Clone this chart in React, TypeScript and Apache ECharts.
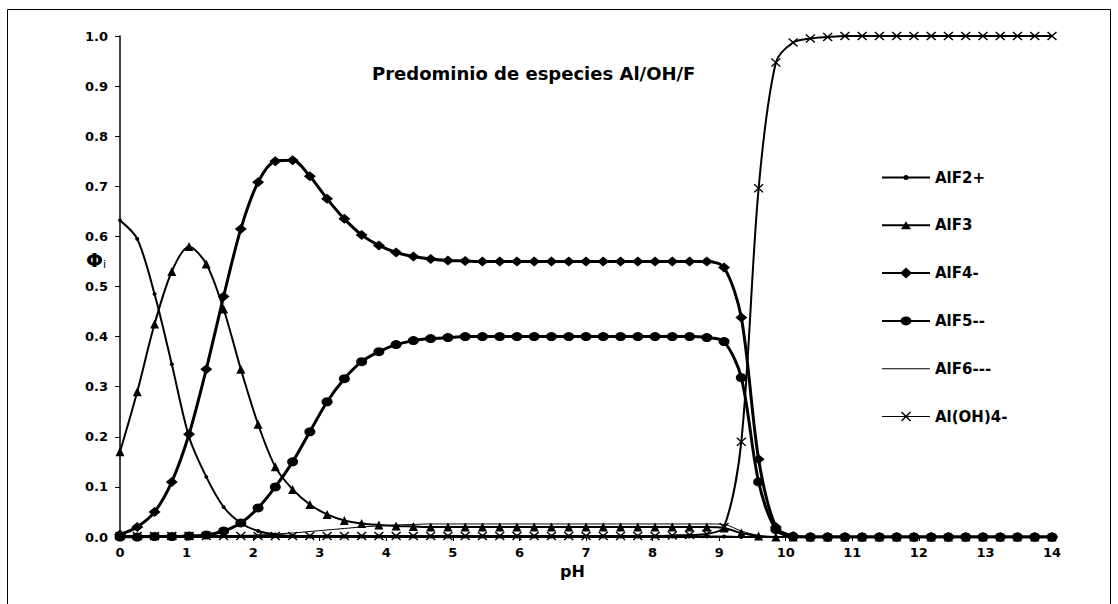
import React, { useEffect, useRef } from "react";
import * as echarts from "echarts";

const pH = [
  0, 0.259, 0.519, 0.778, 1.037, 1.296, 1.556, 1.815, 2.074, 2.333, 2.593, 2.852, 3.111, 3.37,
  3.63, 3.889, 4.148, 4.407, 4.667, 4.926, 5.185, 5.444, 5.704, 5.963, 6.222, 6.481, 6.741, 7.0,
  7.259, 7.519, 7.778, 8.037, 8.296, 8.556, 8.815, 9.074, 9.333, 9.593, 9.852, 10.111, 10.37,
  10.63, 10.889, 11.148, 11.407, 11.667, 11.926, 12.185, 12.444, 12.704, 12.963, 13.222, 13.481,
  13.741, 14.0,
];

const alF2 = [
  0.632, 0.595, 0.485, 0.345, 0.2, 0.12, 0.06, 0.028, 0.012, 0.005, 0.002, 0.001, 0.001, 0.001,
  0.001, 0.001, 0.001, 0.001, 0.001, 0.001, 0.001, 0.001, 0.001, 0.001, 0.001, 0.001, 0.001, 0.001,
  0.001, 0.001, 0.001, 0.001, 0.001, 0.001, 0.001, 0.001, 0, 0, 0, 0, 0, 0, 0, 0, 0, 0, 0, 0, 0, 0,
  0, 0, 0, 0, 0,
];

const alF3 = [
  0.17, 0.29, 0.425, 0.53, 0.58, 0.545, 0.455, 0.335, 0.225, 0.14, 0.095, 0.065, 0.045, 0.033,
  0.027, 0.024, 0.022, 0.021, 0.02, 0.02, 0.02, 0.02, 0.02, 0.02, 0.02, 0.02, 0.02, 0.02, 0.02,
  0.02, 0.02, 0.02, 0.02, 0.02, 0.02, 0.018, 0.008, 0.002, 0, 0, 0, 0, 0, 0, 0, 0, 0, 0, 0, 0, 0,
  0, 0, 0, 0,
];

const alF4 = [
  0.005, 0.02, 0.05, 0.11, 0.205, 0.335, 0.48, 0.615, 0.708, 0.75, 0.752, 0.72, 0.675, 0.635,
  0.603, 0.582, 0.568, 0.56, 0.555, 0.552, 0.551, 0.55, 0.55, 0.55, 0.55, 0.55, 0.55, 0.55, 0.55,
  0.55, 0.55, 0.55, 0.55, 0.55, 0.55, 0.538, 0.438, 0.155, 0.02, 0.002, 0, 0, 0, 0, 0, 0, 0, 0, 0,
  0, 0, 0, 0, 0, 0,
];

const alF5 = [
  0, 0, 0.001, 0.001, 0.002, 0.004, 0.012, 0.028, 0.058, 0.1, 0.15, 0.21, 0.27, 0.316, 0.35, 0.37,
  0.384, 0.392, 0.396, 0.398, 0.4, 0.4, 0.4, 0.4, 0.4, 0.4, 0.4, 0.4, 0.4, 0.4, 0.4, 0.4, 0.4, 0.4,
  0.398, 0.39, 0.318, 0.11, 0.015, 0.001, 0, 0, 0, 0, 0, 0, 0, 0, 0, 0, 0, 0, 0, 0, 0,
];

const alF6 = [
  0, 0, 0, 0, 0.001, 0.001, 0.002, 0.003, 0.004, 0.006, 0.008, 0.011, 0.014, 0.017, 0.02, 0.022,
  0.024, 0.025, 0.026, 0.026, 0.026, 0.026, 0.026, 0.026, 0.026, 0.026, 0.026, 0.026, 0.026, 0.026,
  0.026, 0.026, 0.026, 0.026, 0.026, 0.025, 0.012, 0.003, 0, 0, 0, 0, 0, 0, 0, 0, 0, 0, 0, 0, 0, 0,
  0, 0, 0,
];

const alOH4 = [
  0.002, 0.002, 0.002, 0.002, 0.002, 0.002, 0.002, 0.002, 0.002, 0.002, 0.002, 0.002, 0.002, 0.002,
  0.002, 0.002, 0.002, 0.002, 0.002, 0.002, 0.002, 0.002, 0.002, 0.002, 0.002, 0.002, 0.002, 0.002,
  0.002, 0.002, 0.002, 0.002, 0.003, 0.004, 0.006, 0.02, 0.19, 0.696, 0.947, 0.987, 0.995, 0.998, 1,
  1, 1, 1, 1, 1, 1, 1, 1, 1, 1, 1, 1,
];

const seriesNames = ["AlF2+", "AlF3", "AlF4-", "AlF5--", "AlF6---", "Al(OH)4-"];

const X_SYMBOL = "path://M0,1L1,0L5,4L9,0L10,1L6,5L10,9L9,10L5,6L1,10L0,9L4,5Z";

// legend icons (line + marker) drawn in a 48 x 12 box, all sub-paths clockwise
const LINE2 = "M0,5L48,5L48,7L0,7Z";
const LINE1 = "M0,5.5L48,5.5L48,6.5L0,6.5Z";
const legendIcons = [
  "path://" + LINE2 + "M21.5,6a2.5,2.5 0 1,1 5,0a2.5,2.5 0 1,1 -5,0Z",
  "path://" + LINE2 + "M19,10L24,2L29,10Z",
  "path://" + LINE2 + "M24,0.5L30,6L24,11.5L18,6Z",
  "path://" + LINE2 + "M18.5,6a5.5,4.5 0 1,1 11,0a5.5,4.5 0 1,1 -11,0Z",
  "path://" + LINE1,
  "path://" + LINE1 + "M19,2L20,1L24,5L28,1L29,2L25,6L29,10L28,11L24,7L20,11L19,10L23,6Z",
];

export default function App() {
  const ref = useRef<HTMLDivElement>(null);
  useEffect(() => {
    document.body.style.margin = "0";
    const chart = echarts.init(ref.current!, null, { renderer: "svg" });
    const pair = (ys: number[]) => pH.map((x, i) => [x, ys[i]]);
    const font = "DejaVu Sans";
    const base = (
      name: string,
      ys: number[],
      symbol: string,
      symbolSize: any,
      width: number,
      z: number
    ) => ({
      name,
      type: "line",
      data: pair(ys),
      symbol,
      symbolSize,
      showSymbol: symbol !== "none",
      smooth: 0.3,
      z,
      lineStyle: { color: "#000", width },
      itemStyle: { color: "#000" },
      emphasis: { disabled: true },
    });
    chart.setOption({
      animation: false,
      backgroundColor: "#fff",
      grid: { left: 120, right: 66, top: 36, bottom: 67, containLabel: false },
      title: {
        text: "Predominio de especies Al/OH/F",
        left: 372,
        top: 64,
        padding: 0,
        textStyle: { fontFamily: font, fontWeight: "bold", fontSize: 18, color: "#000" },
      },
      legend: {
        orient: "vertical",
        left: 882,
        top: 170,
        padding: 0,
        itemWidth: 48,
        itemHeight: 12,
        itemGap: 32.8,
        symbolKeepAspect: true,
        data: seriesNames.map((n, i) => ({ name: n, icon: legendIcons[i] })),
        textStyle: { fontFamily: font, fontWeight: "bold", fontSize: 15, color: "#000" },
      },
      xAxis: {
        type: "value",
        min: 0,
        max: 14,
        interval: 1,
        axisLine: { show: true, lineStyle: { color: "#000", width: 1 } },
        axisTick: { show: true, length: 4, lineStyle: { color: "#000" } },
        axisLabel: {
          margin: 9,
          color: "#000",
          fontFamily: font,
          fontWeight: "bold",
          fontSize: 13,
        },
        splitLine: { show: false },
      },
      yAxis: {
        type: "value",
        min: 0,
        max: 1,
        interval: 0.1,
        axisLine: { show: true, lineStyle: { color: "#000", width: 1.5 } },
        axisTick: { show: true, length: 5, lineStyle: { color: "#000" } },
        axisLabel: {
          margin: 12,
          color: "#000",
          fontFamily: font,
          fontWeight: "bold",
          fontSize: 13,
          formatter: (v: number) => v.toFixed(1),
        },
        splitLine: { show: false },
      },
      graphic: [
        {
          type: "rect",
          shape: { x: 7.5, y: 9.5, width: 1103, height: 620 },
          style: { fill: "none", stroke: "#000", lineWidth: 1 },
          silent: true,
        },
        {
          type: "text",
          x: 560,
          y: 563,
          style: {
            text: "pH",
            fontFamily: font,
            fontWeight: "bold",
            fontSize: 16,
            fill: "#000",
          },
        },
        {
          type: "text",
          x: 86,
          y: 249,
          style: {
            text: "{a|Φ}{b|i}",
            rich: {
              a: { fontFamily: font, fontSize: 20, fill: "#000", fontWeight: "bold" },
              b: { fontFamily: font, fontSize: 11, fill: "#000", padding: [10, 0, 0, 0] },
            },
          },
        },
      ],
      series: [
        base("AlF2+", alF2, "circle", 4, 2, 3),
        base("AlF3", alF3, "triangle", 9, 2, 4),
        base("AlF4-", alF4, "diamond", [12, 10], 3, 6),
        base("AlF5--", alF5, "circle", [11, 9], 3, 5),
        base("AlF6---", alF6, "none", 0, 1, 2),
        base("Al(OH)4-", alOH4, X_SYMBOL, [10, 9], 2, 7),
      ],
    });
    return () => chart.dispose();
  }, []);
  return <div ref={ref} style={{ width: 1118, height: 604 }} />;
}
